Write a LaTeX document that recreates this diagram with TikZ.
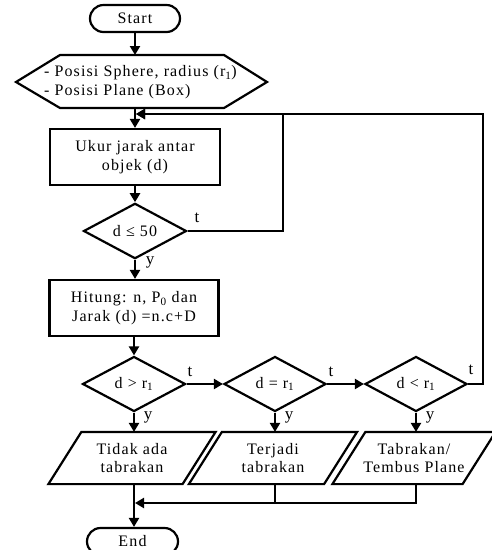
\documentclass[tikz,border=0pt]{standalone}
\usepackage{fontspec}
\setmainfont{Liberation Serif}[LetterSpace=7]
\usetikzlibrary{arrows.meta,shapes.geometric,shapes.misc,calc}
\begin{document}
\begin{tikzpicture}[x=1pt,y=-1pt,
  line width=2.2pt,
  font=\fontsize{16}{18.5}\selectfont,
  arr/.style={-{Triangle[length=9pt,width=10pt]}},
  term/.style={draw, rounded rectangle, minimum width=90pt, minimum height=27pt, inner sep=0pt},
  proc/.style={draw, rectangle, minimum width=170pt, minimum height=56pt, align=center, inner sep=0pt},
  dec/.style={draw, diamond, minimum width=103pt, minimum height=55pt, inner sep=0pt},
  iobox/.style={rectangle, minimum width=132pt, minimum height=50pt, align=center, inner sep=0pt},
  lbl/.style={inner sep=0pt, font=\fontsize{17}{18}\selectfont}
]
\useasboundingbox (0,0) rectangle (492,550);

% nodes
\node[term] (start) at (135,18.5) {Start};
\node[anchor=west, align=left, inner sep=0pt] (hex) at (43,82) {- Posisi Sphere, radius (r\textsubscript{1})\\- Posisi Plane (Box)};
\draw (16,82) -- (60,55) -- (224,55) -- (267,82) -- (224,108) -- (60,108) -- cycle;
\coordinate (hexN) at (135,55);
\coordinate (hexS) at (135,108);

\node[proc] (ukur) at (135,157) {Ukur jarak antar\\objek (d)};
\node[dec] (dec1) at (135,231) {d ≤ 50};
\node[proc, minimum width=169pt] (hitung) at (134,308) {Hitung: n, P\textsubscript{0} dan\\Jarak (d) =n.c+D};

\node[dec] (dec2) at (134,384) {d > r\textsubscript{1}};
\node[dec, minimum width=102pt] (dec3) at (275,384) {d = r\textsubscript{1}};
\node[dec, minimum width=102pt] (dec4) at (416,384) {d < r\textsubscript{1}};

\node[iobox] (p1) at (132,458) {Tidak ada\\tabrakan};
\node[iobox, minimum width=133pt] (p2) at (273,458) {Terjadi\\tabrakan};
\node[iobox, minimum width=128pt] (p3) at (414,458) {Tabrakan/\\Tembus Plane};
\foreach \p in {p1,p2,p3}{
  \draw ($(\p.north west)+(16.5,0)$) -- ($(\p.north east)+(16.5,0)$)
     -- ($(\p.south east)+(-16.5,0)$) -- ($(\p.south west)+(-16.5,0)$) -- cycle;
}

\node[term, minimum width=91pt] (end) at (132.5,541.5) {End};

% connectors
\draw[arr] (start.south) -- (hexN);
\draw[arr] (hexS) -- (ukur.north);
\draw[arr] (ukur.south) -- (dec1.north);
\draw[arr] (dec1.south) -- (dec1.south |- hitung.north);
\draw[arr] (hitung.south) -- (dec2.north);
\draw[arr] (dec2.east) -- (dec3.west);
\draw[arr] (dec3.east) -- (dec4.west);
\draw[arr] (dec2.south) -- (dec2.south |- p1.north);
\draw[arr] (dec3.south) -- (dec3.south |- p2.north);
\draw[arr] (dec4.south) -- (dec4.south |- p3.north);

\coordinate (j1) at (136,114);
\coordinate (ic) at (283,114);
\coordinate (rc) at (483,114);
\draw[arr] (dec1.east) -| (ic) -- (j1);
\draw[arr] (dec4.east) -| (rc) -- (j1);

\coordinate (m) at (134,503);
\draw[arr] (m |- p1.south) -- (m |- end.north);
\draw (dec3.south |- p2.south) -- (dec3.south |- m);
\draw[arr] (dec4.south |- p3.south) |- ([xshift=1pt]m);

% labels
\node[lbl] at (197,218) {t};
\node[lbl] at (150,262) {y};
\node[lbl] at (190,372) {t};
\node[lbl] at (331,372) {t};
\node[lbl] at (471,370) {t};
\node[lbl] at (148,417) {y};
\node[lbl] at (289,417) {y};
\node[lbl] at (430,417) {y};
\end{tikzpicture}
\end{document}
